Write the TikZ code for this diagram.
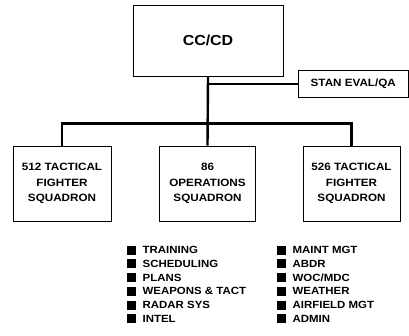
\documentclass[tikz,border=0pt]{standalone}
\usepackage{fontspec}
\setmainfont[FakeStretch=1.1]{Liberation Sans}
\usetikzlibrary{positioning}
\begin{document}
\begin{tikzpicture}[x=1pt,y=-1pt,
  unit/.style={draw,line width=0.8pt,align=center,inner sep=0pt,
    font=\bfseries\fontsize{10.6}{15.5}\selectfont},
  link/.style={line width=2.4pt},
  sqr/.style={fill=black,inner sep=0pt,minimum width=9.5pt,minimum height=9pt},
  duty/.style={anchor=west,inner sep=0pt,font=\bfseries\fontsize{10.4}{11}\selectfont}]
\useasboundingbox (0,0) rectangle (409,336);

\node[unit,minimum width=150pt,minimum height=71pt,font=\bfseries\fontsize{14.5}{16}\selectfont] (cc) at (208,40.5) {CC/CD};
\node[unit,minimum width=110.5pt,minimum height=27pt] (stan) at (353.25,84) {STAN EVAL/QA};

\node[unit,minimum width=98pt,minimum height=75pt] (tfs512) at (62,183.5) {512 TACTICAL\\FIGHTER\\SQUADRON};
\node[unit,minimum width=96pt,minimum height=75pt] (ops86) at (207.5,183.5) {86\\OPERATIONS\\SQUADRON};
\node[unit,minimum width=97pt,minimum height=75pt] (tfs526) at (351.5,183.5) {526 TACTICAL\\FIGHTER\\SQUADRON};

\coordinate (bus) at (207.5,123.5);
\draw[link] (cc.south) -- (ops86.north);
\draw[link] (cc.south |- stan.west) -- (stan.west);
\draw[link] (tfs512.north) |- (bus) -| (tfs526.north);

% duties of the squadrons
\foreach \txt [count=\i] in {TRAINING,SCHEDULING,PLANS,WEAPONS \& TACT,RADAR SYS,INTEL} {
  \node[sqr] (ls\i) at (131.5,236.5+13.7*\i) {};
  \node[duty,right=6pt of ls\i] (lt\i) {\txt};
}
\foreach \txt [count=\i] in {MAINT MGT,ABDR,WOC/MDC,WEATHER,AIRFIELD MGT,ADMIN} {
  \node[sqr] (rs\i) at (281.5,236.5+13.7*\i) {};
  \node[duty,right=6pt of rs\i] (rt\i) {\txt};
}
\end{tikzpicture}
\end{document}
